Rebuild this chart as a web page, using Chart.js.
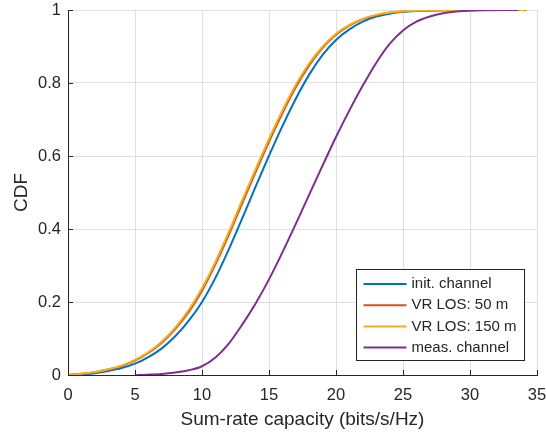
<!DOCTYPE html>
<html>
<head>
<meta charset="utf-8">
<script src="https://cdn.jsdelivr.net/npm/chart.js@4.4.1/dist/chart.umd.min.js"></script>
<style>
  html, body { margin: 0; padding: 0; background: #ffffff; }
  #wrap { width: 546px; height: 435px; }
</style>
</head>
<body>
<div id="wrap"><canvas id="c" width="546" height="435"></canvas></div>
<script>
// ---- Data ----
const seriesNames = ["init. channel", "VR LOS: 50 m", "VR LOS: 150 m", "meas. channel"];
const xTicks = [0, 5, 10, 15, 20, 25, 30, 35];
const yTicks = [0, 0.2, 0.4, 0.6, 0.8, 1];

const initX = [0, 1, 2, 3, 4, 5, 6, 7, 8, 9, 10, 11, 12, 13, 14, 15, 16, 17, 18, 19, 20, 21, 22, 23, 24, 25, 26, 27, 28, 30, 34];
const initY = [0, 0.002, 0.005, 0.011, 0.019, 0.031, 0.049, 0.073, 0.106, 0.148, 0.2, 0.266, 0.344, 0.429, 0.516, 0.601, 0.682, 0.757, 0.823, 0.877, 0.918, 0.947, 0.968, 0.982, 0.99, 0.995, 0.9975, 0.9988, 0.9995, 1, 1];

const los50X = [0, 1, 2, 3, 4, 5, 6, 7, 8, 9, 10, 11, 12, 13, 14, 15, 16, 17, 18, 19, 20, 21, 22, 23, 24, 25, 26, 27, 28, 30, 34.2];
const los50Y = [0, 0.0034, 0.0078, 0.0148, 0.0246, 0.0395, 0.0603, 0.0885, 0.126, 0.172, 0.231, 0.303, 0.384, 0.47, 0.556, 0.639, 0.717, 0.788, 0.848, 0.896, 0.932, 0.957, 0.975, 0.9858, 0.9924, 0.9962, 0.9979, 0.9989, 0.9995, 1, 1];

const los150X = [0, 1, 2, 3, 4, 5, 6, 7, 8, 9, 10, 11, 12, 13, 14, 15, 16, 17, 18, 19, 20, 21, 22, 23, 24, 25, 26, 27, 28, 30, 34.1];
const los150Y = [0, 0.0037, 0.0084, 0.0156, 0.0258, 0.0413, 0.0627, 0.0918, 0.13, 0.178, 0.238, 0.31, 0.392, 0.479, 0.564, 0.647, 0.725, 0.795, 0.854, 0.9, 0.935, 0.959, 0.976, 0.9866, 0.9929, 0.9964, 0.998, 0.999, 0.9996, 1, 1];

const measX = [5.1, 6, 7, 8, 9, 10, 11, 12, 13, 14, 15, 16, 17, 18, 19, 20, 21, 22, 23, 24, 25, 26, 27, 28, 29, 30, 31, 33.6];
const measY = [0, 0.001, 0.003, 0.007, 0.013, 0.024, 0.048, 0.086, 0.138, 0.196, 0.262, 0.336, 0.414, 0.494, 0.574, 0.652, 0.725, 0.793, 0.855, 0.907, 0.944, 0.968, 0.982, 0.991, 0.996, 0.998, 0.999, 1];

const seriesColors = ["#0072BD", "#D95319", "#EDB120", "#7E2F8E"];

// ---- build datasets ----
function pts(xs, ys) { return xs.map((x, i) => ({ x: x, y: ys[i] })); }
const allX = [initX, los50X, los150X, measX];
const allY = [initY, los50Y, los150Y, measY];
const drawOrder = [4, 3, 2, 1];

const datasets = seriesNames.map((name, i) => ({
  label: name,
  data: pts(allX[i], allY[i]),
  borderColor: seriesColors[i],
  backgroundColor: seriesColors[i],
  borderWidth: 2,
  pointRadius: 0,
  fill: false,
  cubicInterpolationMode: 'monotone',
  order: drawOrder[i]
}));

const FONT = '"Liberation Sans", Arial, Helvetica, sans-serif';
const DARK = '#262626';
const GRID = '#dfdfdf';

// inward tick marks (MATLAB style)
const inwardTicks = {
  id: 'inwardTicks',
  afterDatasetsDraw(chart) {
    const ctx = chart.ctx, a = chart.chartArea;
    const xs = chart.scales.x, ys = chart.scales.y;
    ctx.save();
    ctx.strokeStyle = DARK;
    ctx.lineWidth = 1;
    ctx.beginPath();
    xTicks.forEach(v => {
      const px = Math.round(xs.getPixelForValue(v)) + 0.5;
      ctx.moveTo(px, a.bottom);
      ctx.lineTo(px, a.bottom - 5);
    });
    yTicks.forEach(v => {
      const py = Math.round(ys.getPixelForValue(v)) + 0.5;
      ctx.moveTo(a.left, py);
      ctx.lineTo(a.left + 5, py);
    });
    ctx.stroke();
    ctx.restore();
  }
};

// legend box inside the axes (lower right)
const boxLegend = {
  id: 'boxLegend',
  afterDraw(chart) {
    const ctx = chart.ctx, a = chart.chartArea;
    const w = 168, h = 91;
    const right = a.right - 13.5, bottom = a.bottom - 15;
    const left = right - w, top = bottom - h;
    ctx.save();
    ctx.fillStyle = '#ffffff';
    ctx.fillRect(left, top, w, h);
    ctx.strokeStyle = DARK;
    ctx.lineWidth = 1;
    ctx.strokeRect(Math.round(left) + 0.5, Math.round(top) + 0.5, w, h);
    ctx.font = '15px ' + FONT;
    ctx.textBaseline = 'middle';
    ctx.textAlign = 'left';
    const rowH = 21.2;
    chart.data.datasets.forEach((ds, i) => {
      const y = top + 15 + i * rowH;
      ctx.strokeStyle = ds.borderColor;
      ctx.lineWidth = 2;
      ctx.beginPath();
      ctx.moveTo(left + 8, y);
      ctx.lineTo(left + 51, y);
      ctx.stroke();
      ctx.fillStyle = DARK;
      ctx.fillText(ds.label, left + 56, y);
    });
    ctx.restore();
  }
};

new Chart(document.getElementById('c'), {
  type: 'line',
  data: { datasets: datasets },
  plugins: [inwardTicks, boxLegend],
  options: {
    responsive: false,
    animation: false,
    devicePixelRatio: 1,
    layout: { padding: { top: 10, right: 9, left: 0, bottom: 0 } },
    plugins: {
      legend: { display: false },
      tooltip: { enabled: false }
    },
    scales: {
      x: {
        type: 'linear',
        min: 0, max: 35,
        afterBuildTicks(scale) { scale.ticks = xTicks.map(v => ({ value: v })); },
        afterFit(scale) { scale.height = 60; scale.paddingLeft = 0; scale.paddingRight = 0; },
        grid: { color: GRID, lineWidth: 1, drawTicks: false },
        border: { display: true, color: DARK, width: 1 },
        ticks: {
          color: DARK,
          font: { family: FONT, size: 16.5 },
          padding: 11,
          maxRotation: 0
        },
        title: {
          display: true,
          text: 'Sum-rate capacity (bits/s/Hz)',
          color: DARK,
          font: { family: FONT, size: 19 },
          padding: { top: 0, bottom: 4 }
        }
      },
      y: {
        type: 'linear',
        min: 0, max: 1,
        afterBuildTicks(scale) { scale.ticks = yTicks.map(v => ({ value: v })); },
        afterFit(scale) { scale.width = 68; scale.paddingTop = 0; scale.paddingBottom = 0; },
        grid: { color: GRID, lineWidth: 1, drawTicks: false },
        border: { display: true, color: DARK, width: 1 },
        ticks: {
          color: DARK,
          font: { family: FONT, size: 16.5 },
          padding: 7,
          callback: v => String(v)
        },
        title: {
          display: true,
          text: 'CDF',
          color: DARK,
          font: { family: FONT, size: 19 },
          padding: { top: 10.5, bottom: 0 }
        }
      }
    }
  }
});
</script>
</body>
</html>
